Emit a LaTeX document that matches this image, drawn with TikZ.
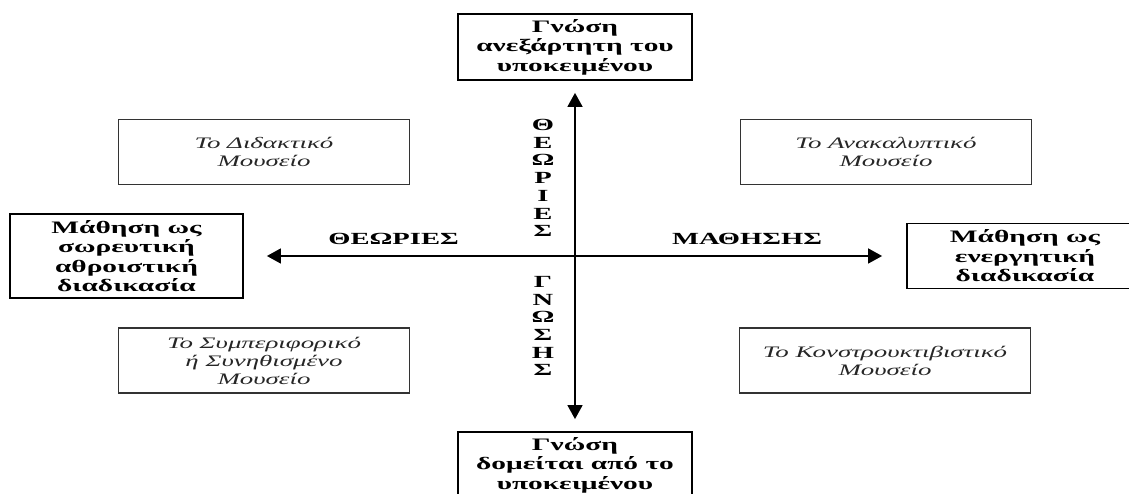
\documentclass[tikz,border=0pt]{standalone}
\usepackage{fontspec}
\setmainfont{Liberation Serif}[FakeStretch=1.68]
\usetikzlibrary{arrows.meta}

\begin{document}
\begin{tikzpicture}[x=1pt, y=1pt, >={Triangle[length=14pt, width=15pt]},
  outerbox/.style={draw, line width=1.8pt, inner sep=0pt, align=center,
        font=\fontsize{17.5}{19.5}\selectfont\bfseries},
  museumbox/.style={draw=black!80, line width=1.4pt, inner sep=0pt,
        minimum width=291pt, minimum height=65pt, align=center,
        font=\fontsize{16}{18}\selectfont\itshape, text=black!85},
  axislabel/.style={inner sep=0pt, align=center,
        font=\fontsize{17}{17.7}\selectfont\bfseries}]
  \useasboundingbox (0,0) rectangle (1129,494);
  \clip (0,0) rectangle (1129,494);

  % the four poles
  \node[outerbox, minimum width=234pt, minimum height=66pt] (indep) at (575,447)
        {Γνώση\\ανεξάρτητη του\\υποκειμένου};
  \node[outerbox, minimum width=234pt, minimum height=66pt] (subj) at (575,29)
        {Γνώση\\δομείται από το\\υποκειμένου};
  \node[outerbox, minimum width=233pt, minimum height=84pt] (cumul) at (126.5,238)
        {Μάθηση ως\\σωρευτική\\αθροιστική\\διαδικασία};
  \node[outerbox, minimum width=236pt, minimum height=65pt] (active) at (1025,238)
        {Μάθηση ως\\ενεργητική\\διαδικασία};

  % the four museums
  \node[museumbox] (didact) at (264,342) {Το Διδακτικό\\Μουσείο};
  \node[museumbox] (discov) at (886,342) {Το Ανακαλυπτικό\\Μουσείο};
  \node[museumbox] (behav) at (264,133.5)
        {Το Συμπεριφορικό\\ή Συνηθισμένο\\Μουσείο};
  \node[museumbox] (constr) at (885,133.5) {Το Κονστρουκτιβιστικό\\Μουσείο};

  % axes
  \draw[<->, line width=1.6pt, shorten <=12pt, shorten >=12pt] (indep) -- (subj);
  \draw[<->, line width=1.6pt, shorten <=23pt, shorten >=24pt] (cumul) -- (active);

  \node[axislabel] (theorlab) at (393.5,255) {ΘΕΩΡΙΕΣ};
  \node[axislabel] (learnlab) at (747,255) {ΜΑΘΗΣΗΣ};
  \node[axislabel] (theorvert) at (543,316) {Θ\\Ε\\Ω\\Ρ\\Ι\\Ε\\Σ};
  \node[axislabel] (knowvert) at (543,168) {Γ\\Ν\\Ω\\Σ\\Η\\Σ};
\end{tikzpicture}
\end{document}
